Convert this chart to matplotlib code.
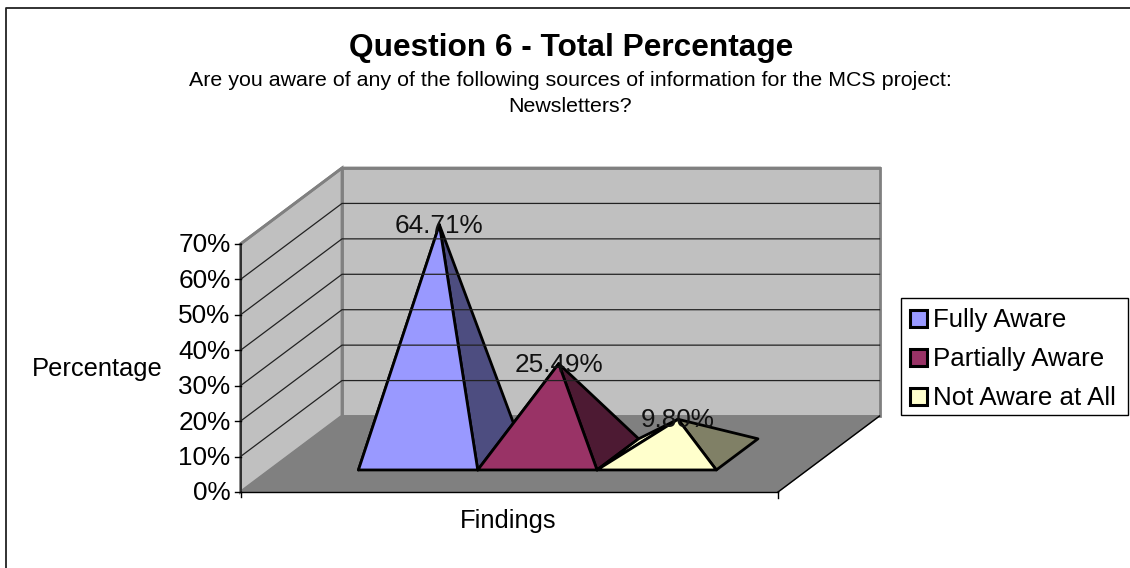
import matplotlib
matplotlib.use("Agg")
import matplotlib.pyplot as plt
from matplotlib.patches import Polygon, Rectangle

plt.rcParams['font.family'] = ['Liberation Sans', 'DejaVu Sans']

# datos del grafico
series = ["Fully Aware", "Partially Aware", "Not Aware at All"]
valores = [64.71, 25.49, 9.80]
etiquetas = ["64.71%", "25.49%", "9.80%"]
ticks = [0, 10, 20, 30, 40, 50, 60, 70]
colores = ["#9999FF", "#993366", "#FFFFCC"]
colores_lado = ["#4D4D80", "#4D1A33", "#808066"]

# geometria en pixeles del plano frontal y la profundidad
X0, X1 = 240.5, 778
Y0, Y70 = 492, 244
DX, DY = 101.5, -76
ANCHO = 119.3
INICIO = 329
D_FRENTE, D_CENTRO, D_ATRAS = 0.29, 0.50, 0.70


def py(valor):
    return Y0 + (Y70 - Y0) * valor / 70


def proy(x, valor, d):
    # pasa de plano frontal + profundidad a la imagen
    return (x + DX * d, py(valor) + DY * d)


fig = plt.figure(figsize=(11.30, 5.68), dpi=100)
ax = fig.add_axes([0, 0, 1, 1])
ax.set_xlim(0, 1130)
ax.set_ylim(568, 0)
ax.axis("off")

# marco exterior (abajo y a la derecha queda cortado)
ax.plot([5.6, 5.6, 1130], [568, 8, 8], color="#222222", lw=1.3)

# paredes y piso
gris = "#C0C0C0"
borde = "#808080"
ax.add_patch(Polygon([proy(X0, 0, 1), proy(X1, 0, 1), proy(X1, 70, 1), proy(X0, 70, 1)],
                     fc=gris, ec=borde, lw=2))
ax.add_patch(Polygon([proy(X0, 0, 0), proy(X0, 70, 0), proy(X0, 70, 1), proy(X0, 0, 1)],
                     fc=gris, ec=borde, lw=2))
ax.add_patch(Polygon([proy(X0, 0, 0), proy(X1, 0, 0), proy(X1, 0, 1), proy(X0, 0, 1)],
                     fc=borde, ec=borde, lw=1))

# lineas de la reticula
for t in ticks[1:-1]:
    ax.plot(*zip(proy(X0, t, 0), proy(X0, t, 1), proy(X1, t, 1)), color="#222222", lw=0.9)
ax.plot(*zip(proy(X0, 70, 0), proy(X0, 70, 1), proy(X1, 70, 1)), color=borde, lw=2)

# ejes
ax.plot([X0, X0], [py(70), py(0)], color="#222222", lw=1.2)
ax.plot([X0, X1], [py(0), py(0)], color="black", lw=1)
ax.plot([X1, X1 + DX], [py(0), py(0) + DY], color="black", lw=1)
ax.plot([X1, X1], [py(0), py(0) + 6], color="black", lw=1)
for t in ticks:
    ax.plot([X0 - 6, X0], [py(t), py(t)], color="black", lw=1)
    ax.text(X0 - 10, py(t) + 1.5, f"{t}%", ha="right", va="center", fontsize=18.8)
ax.plot([X0, X0], [py(0), py(0) + 5], color="black", lw=1)

# piramides, de izquierda a derecha para que la siguiente tape la cara lateral
for i in range(3):
    izq = INICIO + i * ANCHO
    der = izq + ANCHO
    cima = proy(izq + ANCHO / 2, valores[i], D_CENTRO)
    fl = proy(izq, 0, D_FRENTE)
    fr = proy(der, 0, D_FRENTE)
    br = proy(der, 0, D_ATRAS)
    bl = proy(izq, 0, D_ATRAS)
    ax.add_patch(Polygon([fl, bl, cima], fc=colores[i], ec="black", lw=2, joinstyle="round"))
    ax.add_patch(Polygon([fr, br, cima], fc=colores_lado[i], ec="black", lw=2, joinstyle="round"))
    ax.add_patch(Polygon([fl, fr, cima], fc=colores[i], ec="black", lw=2, joinstyle="round"))

# etiquetas de datos
for i in range(3):
    izq = INICIO + i * ANCHO
    cima = proy(izq + ANCHO / 2, valores[i], D_CENTRO)
    ax.text(cima[0], cima[1] + 1, etiquetas[i], ha="center", va="center",
            fontsize=18.8, color="#111111")

# titulos
ax.text(571, 56, "Question 6 - Total Percentage", ha="center", va="baseline",
        fontsize=22.8, fontweight="bold")
ax.text(570.5, 86, "Are you aware of any of the following sources of information for the MCS project:",
        ha="center", va="baseline", fontsize=15.36)
ax.text(570.5, 112, "Newsletters?", ha="center", va="baseline", fontsize=15.36)
ax.text(97, 376, "Percentage", ha="center", va="baseline", fontsize=18.4)
ax.text(508, 528, "Findings", ha="center", va="baseline", fontsize=18.4)

# leyenda hecha a mano
ax.add_patch(Rectangle((901, 298), 227, 117, fc="white", ec="black", lw=1))
for i, nombre in enumerate(series):
    yc = 318 + i * 39
    ax.add_patch(Rectangle((909.5, yc - 8.5), 17, 17, fc=colores[i], ec="black", lw=2.2))
    ax.text(933, yc + 8.7, nombre, ha="left", va="baseline", fontsize=18.6)

fig.savefig("out.png", dpi=100)
